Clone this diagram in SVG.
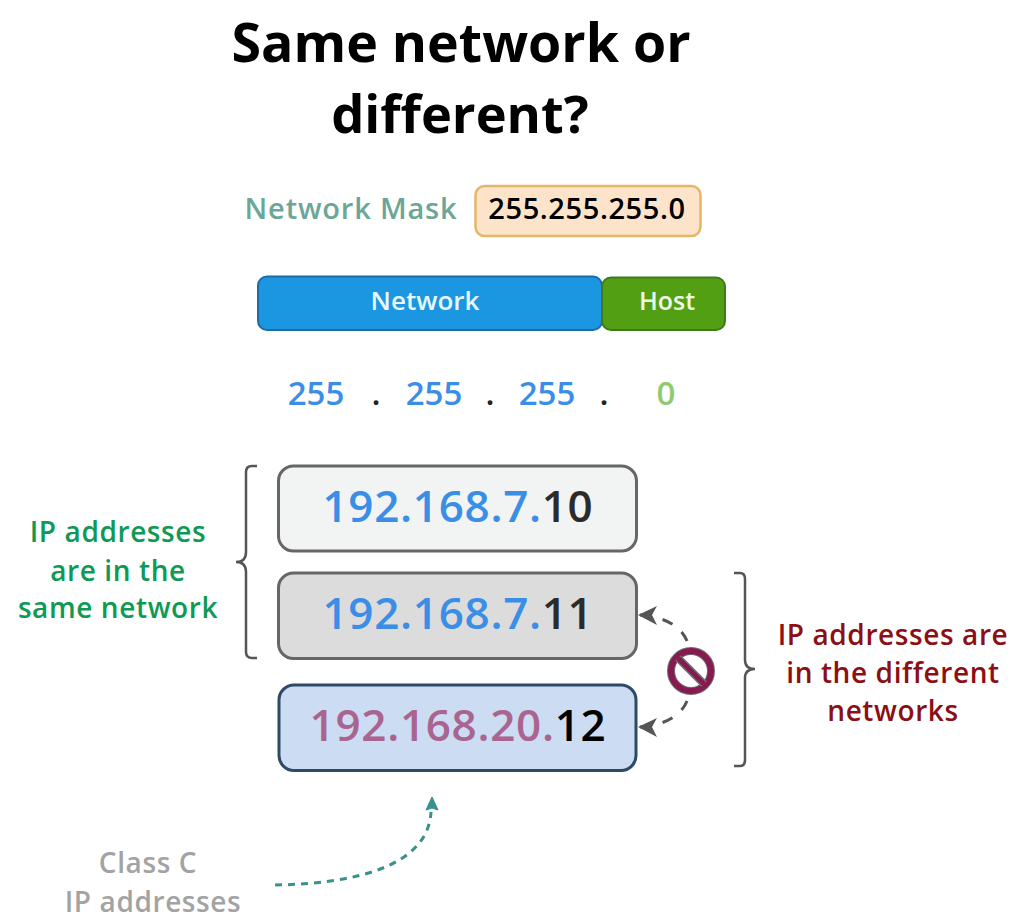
<svg xmlns="http://www.w3.org/2000/svg" width="1025" height="923" viewBox="0 0 1025 923">
<style>
text{font-family:"Open Sans","Noto Sans","Liberation Sans",sans-serif;font-weight:700;text-anchor:middle}
.ttl{font-size:53.700px;fill:#000}
.ip{font-size:44px;font-weight:600;letter-spacing:0.7px}
.oct{font-size:33px;fill:#3a8ee6;font-weight:600}
.dot{fill:#222}
.blue{fill:#3a8ee6}
.mauve{fill:#a9648f}
.lbl{font-size:28px;font-weight:600;letter-spacing:0.6px}
.green{fill:#0e9a55}
.red{fill:#8b0f14}
.grey{fill:#a3a3a3}
.box{stroke-width:3}
.br{fill:none;stroke:#555;stroke-width:2.500}
.dash{fill:none;stroke:#555;stroke-width:3;stroke-dasharray:11 12}
</style>
<rect width="1025" height="923" fill="#fff"/>
<g id="title"><text class="ttl" x="461" y="62">Same network or</text><text class="ttl" x="460" y="133" style="font-size:52.400px">different?</text></g>
<g id="mask-label"><text x="351" y="219" font-size="29" style="font-weight:600;letter-spacing:0.8px" fill="#6ba698">Network Mask</text></g>
<g id="mask"><rect x="475.500" y="186" width="225" height="50" rx="9" fill="#fde3c9" stroke="#e3b768" stroke-width="2.500"/><text x="587" y="219" font-size="29" style="font-weight:600;letter-spacing:0.6px" fill="#000">255.255.255.0</text></g>
<g id="network"><rect x="258" y="276.500" width="344" height="53.500" rx="9" fill="#1b96e0" stroke="#1d6ca6" stroke-width="2"/><text x="425" y="310" font-size="26" style="font-weight:600" fill="#e8f6ff">Network</text></g>
<g id="host"><rect x="602" y="277.500" width="123" height="52.500" rx="9" fill="#539f14" stroke="#3f7a1c" stroke-width="2"/><text x="667" y="310" font-size="25" style="font-weight:600" fill="#eef8e2">Host</text></g>
<g id="octets">
<text class="oct" x="316" y="405">255</text><text class="oct dot" x="376" y="405">.</text>
<text class="oct" x="434" y="405">255</text><text class="oct dot" x="490" y="405">.</text>
<text class="oct" x="547" y="405">255</text><text class="oct dot" x="604" y="405">.</text>
<text class="oct" x="666" y="405" style="fill:#8ccb72">0</text>
</g>
<g id="ip1"><rect class="box" x="278.500" y="466" width="358" height="85" rx="15" fill="#f2f3f3" stroke="#666"/><text class="ip" x="458" y="522"><tspan class="blue">192.168.7.</tspan><tspan fill="#2b2b2b">10</tspan></text></g>
<g id="ip2"><rect class="box" x="278.500" y="573" width="358" height="85.500" rx="15" fill="#dcdcdc" stroke="#666"/><text class="ip" x="458" y="629"><tspan class="blue">192.168.7.</tspan><tspan fill="#2b2b2b">11</tspan></text></g>
<g id="ip3"><rect class="box" x="279" y="685" width="357" height="85.500" rx="15" fill="#cbdcf3" stroke="#2d4a66"/><text class="ip" x="458" y="741"><tspan class="mauve">192.168.20.</tspan><tspan fill="#000">12</tspan></text></g>
<g id="connectors">
<path class="br" d="M257 466 H252 Q246 466 246 472 V552 Q246 562 236 562 Q246 562 246 572 V652 Q246 658 252 658 H257"/>
<path class="br" d="M734 573 H740 Q745 573 745 579 V660 Q745 669 755 669 Q745 669 745 678 V760 Q745 766 740 766 H734"/>
<path class="dash" d="M640 615 C665 617 681 626 687 641"/>
<path d="M638 615 L657 606 L652 615 L657 625Z" fill="#555"/>
<path class="dash" d="M640 727 C665 725 681 716 687 701"/>
<path d="M638 727 L657 718 L652 727 L657 737Z" fill="#555"/>
<path d="M275 885 C350 884 428 868 431 812" fill="none" stroke="#38918c" stroke-width="3" stroke-dasharray="7 6"/>
<path d="M432 797 L438 810 L432 808 L426 810Z" fill="#38918c" stroke="#38918c" stroke-width="1"/>
</g>
<g id="no-sign"><circle cx="691" cy="671" r="20" fill="#fff" stroke="#6e6e6e" stroke-width="8"/><circle cx="691" cy="671" r="20" fill="none" stroke="#871a50" stroke-width="6"/><path d="M678 658 L704 684" stroke="#6e6e6e" stroke-width="8"/><path d="M678 658 L704 684" stroke="#871a50" stroke-width="5"/></g>
<g id="same-label"><text class="lbl green" x="118" y="542">IP addresses</text><text class="lbl green" x="118" y="581">are in the</text><text class="lbl green" x="118" y="618">same network</text></g>
<g id="diff-label"><text class="lbl red" x="893" y="645">IP addresses are</text><text class="lbl red" x="893" y="683">in the different</text><text class="lbl red" x="893" y="721">networks</text></g>
<g id="class-label"><text class="lbl grey" x="148" y="873">Class C</text><text class="lbl grey" x="153" y="912">IP addresses</text></g>
</svg>
